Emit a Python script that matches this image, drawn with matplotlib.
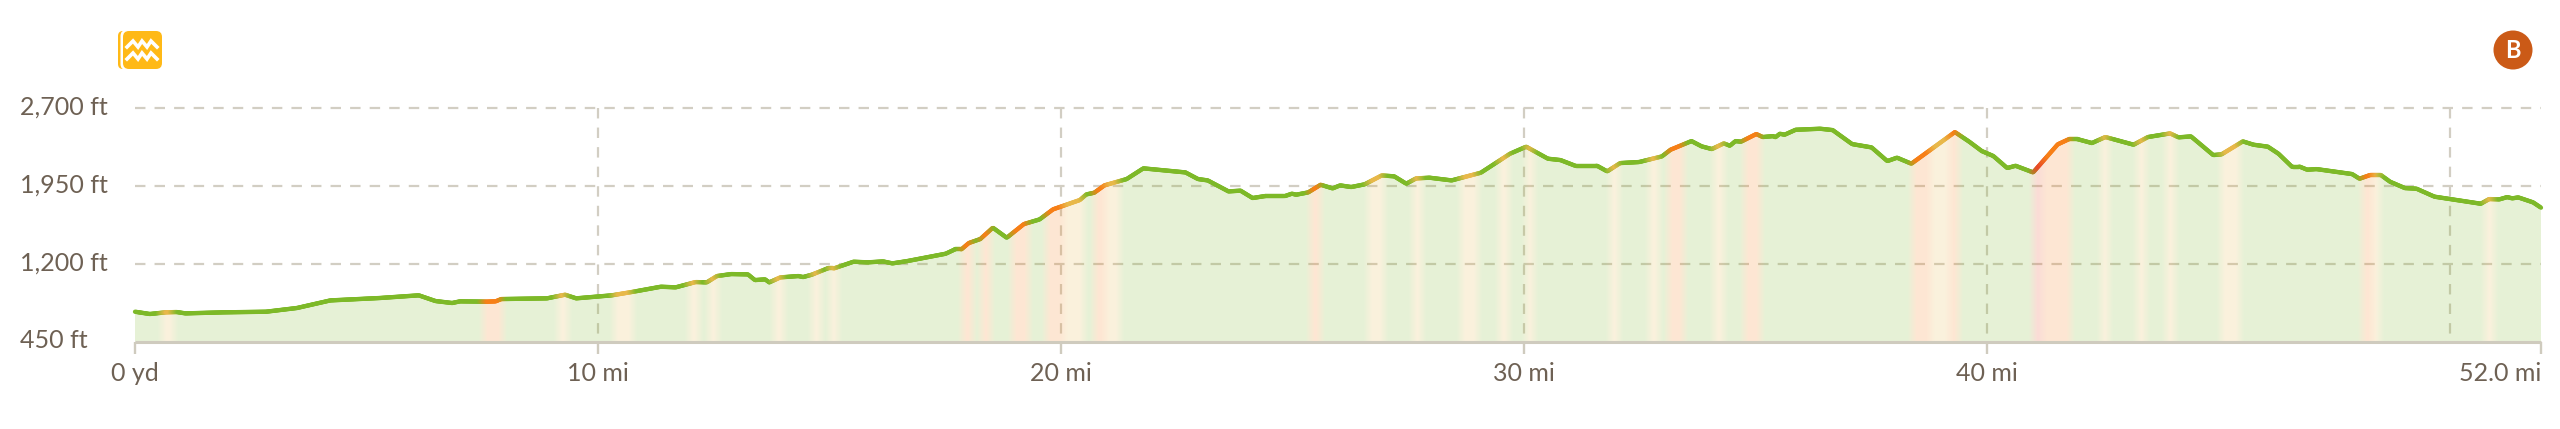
#!/usr/bin/env python3
# elevation profile with grade colouring along the line and under it

import numpy as np
import matplotlib
matplotlib.use("Agg")
import matplotlib.pyplot as plt
from matplotlib.collections import LineCollection
from matplotlib.patches import Circle, FancyBboxPatch, Polygon

distance_mi = [
    0, 0.32, 0.66, 0.90, 1.09, 1.91, 2.83, 3.50, 4.22, 5.28, 6.13, 6.49, 6.85, 7.02, 7.60, 7.79,
    7.91, 8.90, 9.29, 9.53, 10.30, 10.73, 11.36, 11.68, 12.11, 12.35, 12.57, 12.88, 13.24, 13.39,
    13.61, 13.70, 13.94, 14.33, 14.43, 14.62, 14.96, 15.10, 15.52, 15.83, 16.16, 16.36, 16.69,
    17.51, 17.71, 17.85, 18.01, 18.26, 18.53, 18.83, 19.20, 19.54, 19.83, 20.41, 20.55, 20.72,
    20.94, 21.42, 21.78, 22.69, 22.96, 23.17, 23.62, 23.88, 24.14, 24.41, 24.84, 24.99, 25.08,
    25.34, 25.61, 25.87, 26.03, 26.27, 26.56, 26.93, 27.20, 27.46, 27.67, 27.96, 28.44, 29.07,
    29.70, 30.05, 30.52, 30.79, 31.11, 31.58, 31.80, 32.08, 32.49, 32.98, 33.17, 33.62, 33.84,
    34.06, 34.32, 34.45, 34.57, 34.69, 35.02, 35.16, 35.39, 35.43, 35.53, 35.63, 35.87, 36.40,
    36.67, 37.09, 37.51, 37.85, 38.06, 38.37, 39.31, 39.62, 39.89, 40.14, 40.44, 40.62, 41.00,
    41.53, 41.76, 41.98, 42.27, 42.56, 43.17, 43.48, 43.96, 44.14, 44.41, 44.89, 45.07, 45.53,
    45.76, 46.07, 46.30, 46.59, 46.76, 46.92, 47.12, 47.89, 48.05, 48.28, 48.51, 48.71, 49.03,
    49.28, 49.67, 50.67, 50.85, 51.07, 51.24, 51.35, 51.48, 51.80, 51.97,
]
elevation_ft = [
    739, 717, 733, 736, 723, 733, 739, 775, 848, 871, 897, 842, 823, 839, 836, 839,
    861, 868, 903, 868, 897, 929, 980, 974, 1025, 1022, 1083, 1102, 1099, 1044,
    1051, 1022, 1070, 1083, 1073, 1096, 1157, 1157, 1221, 1215, 1224, 1205, 1228,
    1298, 1340, 1340, 1401, 1440, 1549, 1452, 1584, 1629, 1726, 1816, 1870, 1886,
    1957, 2018, 2121, 2082, 2018, 2005, 1899, 1906, 1835, 1854, 1854, 1877, 1867,
    1889, 1963, 1928, 1957, 1941, 1967, 2053, 2044, 1973, 2024, 2031, 2005, 2079,
    2262, 2330, 2214, 2201, 2146, 2146, 2092, 2172, 2182, 2236, 2301, 2384, 2333,
    2307, 2362, 2339, 2384, 2378, 2452, 2423, 2432, 2420, 2455, 2445, 2493, 2503,
    2490, 2355, 2323, 2191, 2224, 2166, 2471, 2378, 2288, 2240, 2124, 2146, 2082,
    2352, 2400, 2400, 2365, 2423, 2349, 2423, 2458, 2420, 2429, 2249, 2256, 2381,
    2349, 2330, 2262, 2137, 2137, 2108, 2114, 2066, 2021, 2057, 2057, 1992, 1931,
    1925, 1848, 1780, 1825, 1822, 1844, 1832, 1841, 1793, 1742,
]

# steep stretches: 1 = yellow, 2 = orange, 3 = red
band_start = [
    0.58, 7.50, 9.14, 10.35, 11.97, 12.40, 13.80, 14.62, 15.00, 17.87, 18.28, 18.93, 19.68, 20.07,
    20.72, 20.98, 25.37, 26.63, 27.60, 28.64, 29.46, 30.05, 31.87, 32.71, 33.12, 34.10, 34.76,
    38.38, 38.81, 39.19, 41.01, 41.21, 42.47, 43.26, 43.87, 45.07, 48.12, 48.35, 50.76,
]
band_end = [
    0.83, 7.94, 9.35, 10.76, 12.18, 12.59, 14.01, 14.81, 15.18, 18.09, 18.48, 19.30, 20.07, 20.50,
    20.98, 21.27, 25.61, 26.98, 27.80, 29.02, 29.67, 30.23, 32.06, 32.93, 33.46, 34.32, 35.13,
    38.81, 39.19, 39.41, 41.21, 41.83, 42.65, 43.44, 44.07, 45.47, 48.35, 48.51, 50.96,
]
band_level = [
    1, 2, 1, 1, 1, 1, 1, 1, 1, 2, 2, 2, 2, 1,
    2, 1, 2, 1, 1, 1, 1, 1, 1, 1, 2, 1, 2,
    2, 1, 2, 3, 2, 1, 1, 1, 1, 2, 1, 1,
]

y_ticks = [450, 1200, 1950, 2700]
y_labels = ["450 ft", "1,200 ft", "1,950 ft", "2,700 ft"]
x_ticks = [0, 10, 20, 30, 40, 51.97]
x_labels = ["0 yd", "10 mi", "20 mi", "30 mi", "40 mi", "52.0 mi"]
x_grid = [10, 20, 30, 40, 50]

level_colors = np.array([
    [0x7D, 0xB9, 0x28],
    [0xE8, 0xB8, 0x4A],
    [0xF7, 0x7F, 0x17],
    [0xE8, 0x4A, 0x28],
]) / 255

text_color = "#6E6154"
grid_color = "#D2CEC3"
axis_color = "#CFCBBE"

plt.rcParams["font.family"] = ["Lato", "DejaVu Sans"]

fig = plt.figure(figsize=(25.6, 4.29), dpi=100)
ax = fig.add_axes([135 / 2560, (429 - 341.7) / 429, (2541 - 135) / 2560, (341.7 - 108.3) / 429])

x_end = distance_mi[-1]
ax.set_xlim(0, x_end)
ax.set_ylim(450, 2700)

# グリッド
for v in y_ticks[1:]:
    ax.plot([0, x_end], [v, v], color=grid_color, lw=1.6, ls=(0, (4.7, 4.1)), zorder=1, clip_on=False)
for v in x_grid:
    ax.plot([v, v], [2700, 450], color=grid_color, lw=1.6, ls=(0, (4.7, 4.1)), zorder=1)

# colour along the distance, softened at the edges of each band
columns = np.linspace(0, x_end, 2406)
rgb = np.tile(level_colors[0], (columns.size, 1))
for start, end, level in zip(band_start, band_end, band_level):
    rgb[(columns >= start) & (columns < end)] = level_colors[level]
kernel = np.ones(9) / 9
padded = np.pad(rgb, ((4, 4), (0, 0)), mode="edge")
rgb = np.column_stack([np.convolve(padded[:, i], kernel, mode="valid") for i in range(3)])

area = np.column_stack([distance_mi + [x_end, 0], elevation_ft + [450, 450]])
clip = Polygon(area, closed=True, transform=ax.transData, fc="none", ec="none")
ax.add_patch(clip)
img = ax.imshow(rgb[np.newaxis, :, :], extent=(0, x_end, 450, 2700), aspect="auto", alpha=0.19, zorder=2,
                interpolation="bilinear", origin="lower")
img.set_clip_path(clip)
ax.set_xlim(0, x_end)
ax.set_ylim(450, 2700)

line_y = np.interp(columns, distance_mi, elevation_ft)
points = np.column_stack([columns, line_y])
pieces = np.stack([points[:-1], points[1:]], axis=1)
lc = LineCollection(pieces, colors=rgb[:-1], linewidths=3.1, capstyle="round", zorder=3)
lc.set_clip_on(False)
ax.add_collection(lc)

for s in ax.spines.values():
    s.set_visible(False)
ax.plot([0, x_end], [450, 450], color=axis_color, lw=2.2, zorder=4, clip_on=False, solid_capstyle="butt")

ax.set_xticks(x_ticks)
ax.set_xticklabels(x_labels)
ax.set_yticks([])
ax.tick_params(axis="x", length=8.5, width=1.7, color=axis_color, labelsize=18, labelcolor=text_color, pad=6)
ax.get_xticklabels()[-1].set_ha("right")

# y labels and the icons are placed in image pixels
over = fig.add_axes([0, 0, 1, 1], facecolor="none")
over.set_xlim(0, 2560)
over.set_ylim(429, 0)
over.axis("off")

for v, label in zip(y_ticks, y_labels):
    y = 341.7 - (v - 450) / 2250 * 233.4
    over.text(20, y - 1, label, color=text_color, fontsize=18, ha="left", va="center")

icon_color = "#FFB917"
over.add_patch(FancyBboxPatch((118, 31), 20, 38, boxstyle="round,pad=0,rounding_size=5", fc=icon_color, ec="none"))
over.add_patch(FancyBboxPatch((120.5, 30), 20, 40, boxstyle="round,pad=0,rounding_size=6", fc="white", ec="none"))
over.add_patch(FancyBboxPatch((123, 31), 39, 38, boxstyle="round,pad=0,rounding_size=6", fc=icon_color, ec="none"))
for dy in [0, 12]:
    over.plot([127, 133, 138, 142, 147, 151, 157], np.array([47, 41, 47, 41, 47, 41, 47]) + dy,
              color="white", lw=2.6, solid_joinstyle="miter")

over.add_patch(Circle((2513, 50), 19.5, fc="#CB5A17", ec="none"))
over.text(2513, 50, "B", color="white", fontsize=17, fontweight="bold", ha="center", va="center")

fig.savefig("out.png", dpi=100)
